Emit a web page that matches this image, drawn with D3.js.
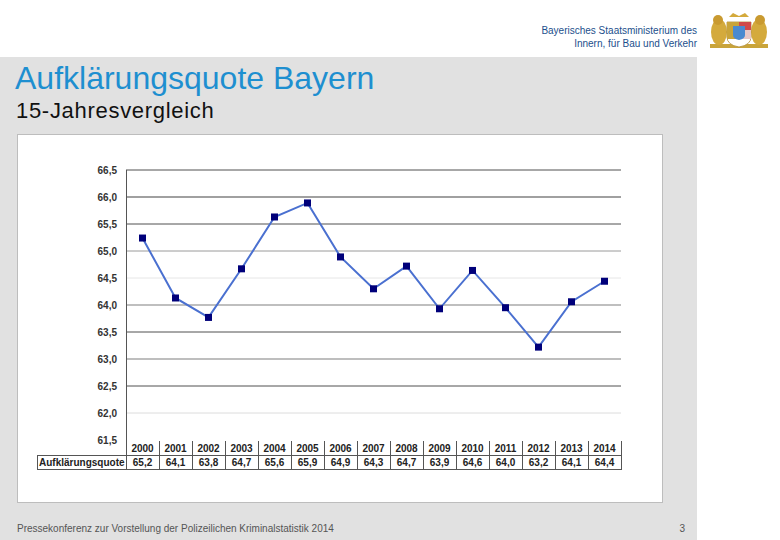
<!DOCTYPE html>
<html><head><meta charset="utf-8">
<script src="https://cdn.jsdelivr.net/npm/d3@7"></script>
<style>
html,body{margin:0;padding:0;background:#fff;}
svg{display:block;font-family:"Liberation Sans",Arial,sans-serif;}
</style></head>
<body>
<svg id="c" width="780" height="540"></svg>
<script>
// ---- data ----
const years = ["2000","2001","2002","2003","2004","2005","2006","2007","2008","2009","2010","2011","2012","2013","2014"];
const quote = [65.24,64.13,63.77,64.67,65.63,65.89,64.89,64.30,64.72,63.93,64.64,63.95,63.22,64.06,64.44];
const tableLabels = ["65,2","64,1","63,8","64,7","65,6","65,9","64,9","64,3","64,7","63,9","64,6","64,0","63,2","64,1","64,4"];
const yTicks = [61.5,62.0,62.5,63.0,63.5,64.0,64.5,65.0,65.5,66.0,66.5];
const seriesName = "Aufklärungsquote";
const title = "Aufklärungsquote Bayern";
const subtitle = "15-Jahresvergleich";
const ministry = ["Bayerisches Staatsministerium des","Innern, für Bau und Verkehr"];
const footer = "Pressekonferenz zur Vorstellung der Polizeilichen Kriminalstatistik 2014";
const pageNo = "3";
// grid line styling (visual only)
const gridStyle = {61.5:null,62.0:["#dcdcdc",1],62.5:["#505050",1],63.0:["#a8a8a8",1.5],63.5:["#505050",1],64.0:["#808080",1.2],64.5:["#e6e6e6",1],65.0:["#9a9a9a",1],65.5:["#505050",1],66.0:["#a0a0a0",2],66.5:["#505050",1]};

const svg = d3.select("#c");
// slide background
svg.append("rect").attr("x",0).attr("y",57).attr("width",697).attr("height",483).attr("fill","#e1e1e1");

// header text
const hdr = svg.append("g").attr("font-size",10).attr("fill","#1c4f8c").attr("text-anchor","end");
hdr.selectAll("text").data(ministry).join("text")
  .attr("x",697).attr("y",(d,i)=>34+i*13).text(d=>d);

// logo (simplified coat of arms)
const logo = svg.append("g").attr("transform","translate(739,31)");
logo.append("rect").attr("x",-29).attr("y",13).attr("width",58).attr("height",4).attr("fill","#c9a43a");
logo.append("ellipse").attr("cx",-20).attr("cy",1).attr("rx",8).attr("ry",13).attr("fill","#d4aa3c");
logo.append("ellipse").attr("cx",20).attr("cy",1).attr("rx",8).attr("ry",13).attr("fill","#d4aa3c");
logo.append("circle").attr("cx",-21).attr("cy",-11).attr("r",5).attr("fill","#c99a30");
logo.append("circle").attr("cx",21).attr("cy",-11).attr("r",5).attr("fill","#c99a30");
logo.append("path").attr("d","M-12,-9 L12,-9 L12,6 Q12,14 0,16 Q-12,14 -12,6 Z").attr("fill","#fff").attr("stroke","#b08a30").attr("stroke-width",0.8);
logo.append("rect").attr("x",-12).attr("y",-9).attr("width",12).attr("height",8).attr("fill","#c9a43a");
logo.append("rect").attr("x",0).attr("y",-9).attr("width",12).attr("height",8).attr("fill","#d04a4a");
logo.append("rect").attr("x",0).attr("y",-1).attr("width",12).attr("height",9).attr("fill","#e8c8c8");
logo.append("rect").attr("x",-12).attr("y",-1).attr("width",12).attr("height",9).attr("fill","#c9a43a");
logo.append("path").attr("d","M-6,-5 L6,-5 L6,4 Q6,8 0,9 Q-6,8 -6,4 Z").attr("fill","#4a8ad0");
logo.append("path").attr("d","M-10,-14 L-6,-18 L0,-15 L6,-18 L10,-14 Z").attr("fill","#d4aa3c");

// title
svg.append("text").attr("x",15).attr("y",89).attr("font-size",32).attr("fill","#1e8fd0").text(title);
svg.append("text").attr("x",16).attr("y",118).attr("font-size",22).attr("letter-spacing",0.7).attr("fill","#111").text(subtitle);

// chart panel
svg.append("rect").attr("x",17.5).attr("y",134.5).attr("width",645).attr("height",368).attr("fill","#fff").attr("stroke","#bdbdbd");

// scales
const x = d3.scaleBand().domain(years).range([126,621]);
const y = d3.scaleLinear().domain([61.5,66.5]).range([440,170]);

// grid lines
const grid = svg.append("g");
yTicks.forEach(t=>{
  const s = gridStyle[t];
  if(!s) return;
  grid.append("line").attr("x1",126).attr("x2",621).attr("y1",y(t)).attr("y2",y(t))
    .attr("stroke",s[0]).attr("stroke-width",s[1]);
});

// y axis
const ax = svg.append("g").attr("transform","translate(126,0)")
  .call(d3.axisLeft(y).tickValues(yTicks).tickSize(0).tickPadding(9)
    .tickFormat(d=>d3.format(".1f")(d).replace(".",",")));
ax.select(".domain").remove();
ax.selectAll("text").attr("font-size",10).attr("font-weight","bold").attr("fill","#333")
  .attr("font-family","Liberation Sans, Arial, sans-serif");
svg.append("line").attr("x1",126.5).attr("x2",126.5).attr("y1",170).attr("y2",469).attr("stroke","#555");

// line + markers
const pts = years.map((yr,i)=>({yr,v:quote[i]}));
const line = d3.line().x(d=>x(d.yr)+x.bandwidth()/2).y(d=>y(d.v));
svg.append("path").datum(pts).attr("d",line).attr("fill","none").attr("stroke","#4a70d0").attr("stroke-width",2);
svg.selectAll("rect.mk").data(pts).join("rect").attr("class","mk")
  .attr("x",d=>x(d.yr)+x.bandwidth()/2-3.5).attr("y",d=>y(d.v)-3.5)
  .attr("width",7).attr("height",7).attr("fill","#00007a");

// data table
const tb = svg.append("g").attr("font-size",10).attr("font-weight","bold").attr("fill","#222");
tb.append("line").attr("x1",37).attr("x2",621).attr("y1",455.5).attr("y2",455.5).attr("stroke","#555");
tb.append("line").attr("x1",37).attr("x2",621).attr("y1",469.5).attr("y2",469.5).attr("stroke","#555");
tb.append("line").attr("x1",37.5).attr("x2",37.5).attr("y1",455).attr("y2",470).attr("stroke","#555");
tb.selectAll("line.sep").data(years).join("line").attr("class","sep")
  .attr("x1",d=>x(d)+x.bandwidth()+0.5).attr("x2",d=>x(d)+x.bandwidth()+0.5)
  .attr("y1",441).attr("y2",470).attr("stroke","#555");
tb.selectAll("text.yr").data(years).join("text").attr("class","yr")
  .attr("x",d=>x(d)+x.bandwidth()/2).attr("y",452).attr("text-anchor","middle").text(d=>d);
tb.selectAll("text.val").data(tableLabels).join("text").attr("class","val")
  .attr("x",(d,i)=>x(years[i])+x.bandwidth()/2).attr("y",466).attr("text-anchor","middle").text(d=>d);
tb.append("text").attr("x",39).attr("y",466).text(seriesName);

// footer
svg.append("text").attr("x",17).attr("y",532).attr("font-size",10).attr("fill","#555").text(footer);
svg.append("text").attr("x",685).attr("y",532).attr("font-size",10).attr("fill","#555").attr("text-anchor","end").text(pageNo);
</script>
</body></html>
